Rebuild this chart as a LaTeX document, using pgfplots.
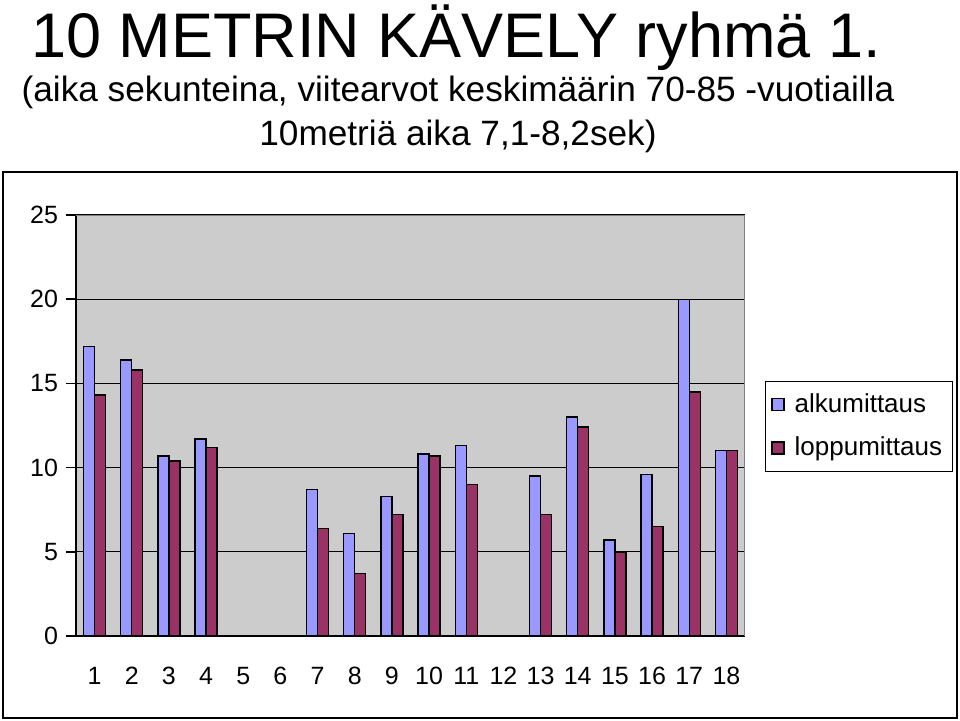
\documentclass[border=0pt]{standalone}
\usepackage{pgfplots}
\pgfplotsset{compat=1.18}
\usepackage{fontspec}
\setmainfont{Liberation Sans}
\definecolor{cblue}{RGB}{153,153,255}
\definecolor{cred}{RGB}{153,51,102}
\definecolor{bggray}{RGB}{204,204,204}
\begin{document}
\begin{tikzpicture}
\useasboundingbox (-38pt,-42pt) rectangle (442pt,318pt);
\draw[line width=1pt] (-36.5pt,-41pt) rectangle (440.5pt,232pt);
\node[anchor=base, inner sep=0pt, font=\fontsize{31.5}{38}\selectfont] at (190pt,289.5pt) {10 METRIN KÄVELY ryhmä 1.};
\node[anchor=base, inner sep=0pt, font=\fontsize{17.6}{21}\selectfont] at (191pt,267.5pt) {(aika sekunteina, viitearvot keskimäärin 70-85 -vuotiailla};
\node[anchor=base, inner sep=0pt, font=\fontsize{17.6}{21}\selectfont] at (191pt,245.5pt) {10metriä aika 7,1-8,2sek)};
\begin{axis}[
  at={(0pt,0pt)}, anchor=south west,
  scale only axis, width=334.5pt, height=210.5pt,
  xmin=0.5, xmax=18.5, ymin=0, ymax=25,
  axis background/.style={fill=bggray},
  axis x line*=bottom, axis y line*=left,
  axis line style={black, line width=0.8pt},
  tick align=outside,
  xtick={1,...,18},
  major x tick style={draw=none},
  extra x ticks={0.5,1.5,...,18.5},
  extra x tick labels={},
  extra x tick style={major tick length=5pt, tick style={black, line width=0.8pt}},
  ytick={0,5,...,25},
  major y tick style={black, line width=0.8pt},
  major tick length=5pt,
  ymajorgrids,
  grid style={black, line width=0.6pt},
  /pgf/number format/assume math mode=true,
  xticklabel style={font=\fontsize{12.5}{15}\selectfont, yshift=-7pt},
  yticklabel style={font=\fontsize{12.5}{15}\selectfont, xshift=-0.5pt},
  ybar=0pt, bar width=5.5pt,
  legend style={at={(1.03,0.606)}, anchor=north west, draw=black, fill=white,
    font=\fontsize{13}{15}\selectfont, row sep=7pt, /tikz/column sep=3pt, inner xsep=3pt, inner ysep=4pt},
  legend cell align=left,
  legend image code/.code={\draw[#1, draw=black, line width=0.6pt] (0pt,-3pt) rectangle (6pt,3pt);},
]
\addplot[fill=cblue, draw=black, line width=0.7pt] coordinates {
 (1,17.2) (2,16.4) (3,10.7) (4,11.7) (7,8.7) (8,6.1) (9,8.3) (10,10.8) (11,11.3)
 (13,9.5) (14,13.0) (15,5.7) (16,9.6) (17,20.0) (18,11.0)};
\addplot[fill=cred, draw=black, line width=0.7pt] coordinates {
 (1,14.3) (2,15.8) (3,10.4) (4,11.2) (7,6.4) (8,3.7) (9,7.2) (10,10.7) (11,9.0)
 (13,7.2) (14,12.4) (15,5.0) (16,6.5) (17,14.5) (18,11.0)};
\legend{alkumittaus, loppumittaus}
\draw[gray, line width=0.8pt] (rel axis cs:0,1) -- (rel axis cs:1,1) -- (rel axis cs:1,0);
\end{axis}
\end{tikzpicture}
\end{document}
